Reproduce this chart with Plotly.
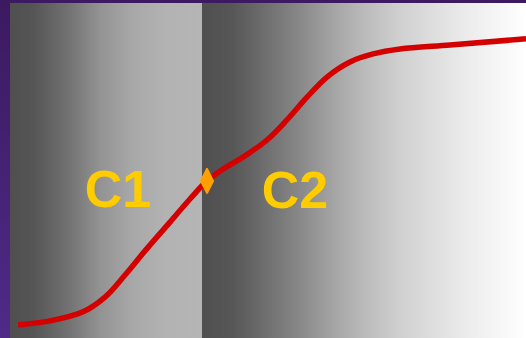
import plotly.graph_objects as go

# S-shaped response curve (x: 0-10, y: fraction 0-1)
curve_x = [0.155, 0.775, 1.415, 1.841, 2.229, 2.616, 3.101, 3.488, 3.818, 4.167,
           4.516, 4.981, 5.368, 5.756, 6.143, 6.589, 7.035, 7.558, 8.527, 10.0]
curve_y = [0.039, 0.051, 0.078, 0.122, 0.188, 0.260, 0.346, 0.415, 0.469, 0.508,
           0.540, 0.591, 0.651, 0.719, 0.779, 0.824, 0.848, 0.863, 0.875, 0.893]

# Junction between the two regions
junction_x = [3.818]
junction_y = [0.469]

# Region boundaries along x and their labels
region_edges = [0.0, 3.721, 10.0]
region_labels = ["C1", "C2"]
label_pos_x = [2.093, 5.523]
label_pos_y = [0.430, 0.428]

X_MIN, X_MAX = -0.194, 10.0
Y_MIN, Y_MAX = 0.0, 1.009

fig = go.Figure()

# purple backdrop
fig.add_trace(go.Scatter(
    x=[X_MIN, X_MAX, X_MAX, X_MIN, X_MIN],
    y=[Y_MIN, Y_MIN, Y_MAX, Y_MAX, Y_MIN],
    mode="lines", line=dict(width=0), fill="toself",
    fillgradient=dict(type="vertical",
                      colorscale=[[0, "#4f2a88"], [1, "#3c1a60"]]),
    hoverinfo="skip", showlegend=False))

region_scales = [
    [[0, "#4f4f4f"], [0.12, "#555555"], [0.30, "#717171"], [0.47, "#939393"],
     [0.64, "#a8a8a8"], [0.82, "#b3b3b3"], [1, "#b5b5b5"]],
    [[0, "#4f4f4f"], [0.096, "#575757"], [0.302, "#888888"], [0.404, "#a4a4a4"],
     [0.509, "#bcbcbc"], [0.611, "#d0d0d0"], [0.818, "#ececec"], [1, "#ffffff"]],
]
top = 1.0
for i, scale in enumerate(region_scales):
    x0, x1 = region_edges[i], region_edges[i + 1]
    fig.add_trace(go.Scatter(
        x=[x0, x1, x1, x0, x0], y=[0, 0, top, top, 0],
        mode="lines", line=dict(width=0), fill="toself",
        fillgradient=dict(type="horizontal", colorscale=scale),
        hoverinfo="skip", showlegend=False))

fig.add_trace(go.Scatter(
    x=curve_x, y=curve_y, mode="lines",
    line=dict(color="#d40000", width=5.5, shape="spline", smoothing=1.0),
    showlegend=False))

fig.add_trace(go.Scatter(
    x=junction_x, y=junction_y, mode="markers",
    marker=dict(symbol="diamond-tall", size=18, color="#ffa000",
                line=dict(width=1.5, color="#ffa000")),
    showlegend=False))

fig.add_trace(go.Scatter(
    x=label_pos_x, y=label_pos_y, mode="text", text=region_labels,
    textposition="middle center",
    textfont=dict(family="Liberation Sans, Arial, sans-serif", size=52,
                  color="#ffcc00", weight="bold"),
    showlegend=False))

fig.update_xaxes(range=[X_MIN, X_MAX], visible=False, showgrid=False,
                 zeroline=False)
fig.update_yaxes(range=[Y_MIN, Y_MAX], visible=False, showgrid=False,
                 zeroline=False)
fig.update_layout(
    width=526, height=338,
    margin=dict(l=0, r=0, t=0, b=0),
    paper_bgcolor="#45226f", plot_bgcolor="#45226f",
    showlegend=False,
)

fig.write_html("out.html")
